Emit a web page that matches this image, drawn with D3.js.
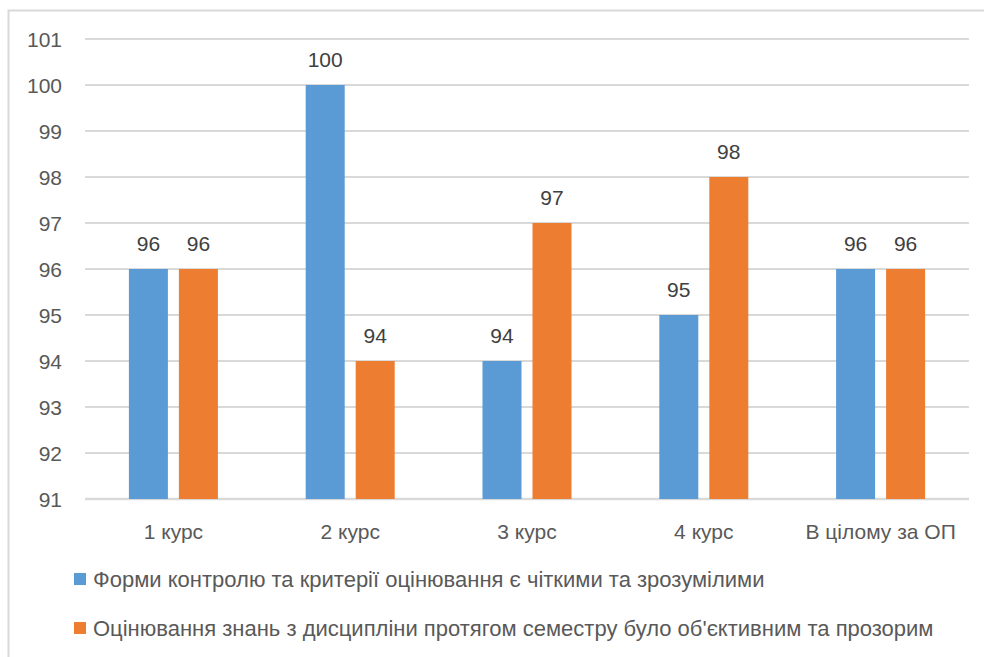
<!DOCTYPE html>
<html><head><meta charset="utf-8">
<script src="https://cdn.jsdelivr.net/npm/d3@7"></script>
<style>body{margin:0;background:#fff}svg{display:block}</style>
</head><body>
<svg id="c" width="984" height="657"></svg>
<script>
const categories = ["1 курс","2 курс","3 курс","4 курс","В цілому за ОП"];
const seriesNames = ["Форми контролю та критерії оцінювання є чіткими та зрозумілими",
  "Оцінювання знань з дисципліни протягом семестру було об'єктивним та прозорим"];
const seriesA = [96,100,94,95,96];
const seriesB = [96,94,97,98,96];
const yTicks = [91,92,93,94,95,96,97,98,99,100,101];
const colors = ["#5b9bd5","#ed7d31"];

(function(){
const svg = d3.select("#c");
const font = "'Liberation Sans', Arial, sans-serif";
const textColor = "#595959";
svg.append("rect").attr("x",8.5).attr("y",10.5).attr("width",990).attr("height",660)
  .attr("fill","#fff").attr("stroke","#d9d9d9").attr("stroke-width",2);

const pL = 85, pR = 969, pT = 39, pB = 499;
const x = d3.scaleBand().domain(categories).range([pL,pR]);
const y = d3.scaleLinear().domain([91,101]).range([pB,pT]);

const grid = svg.append("g");
grid.selectAll("line").data(yTicks).join("line")
  .attr("x1",pL).attr("x2",pR)
  .attr("y1",d=>y(d)).attr("y2",d=>y(d))
  .attr("stroke","#d9d9d9").attr("stroke-width",d=>d===91?2.5:2);

const yAxis = d3.axisLeft(y).tickValues(yTicks).tickSize(0).tickPadding(0).tickFormat(d3.format("d"));
const ya = svg.append("g").attr("transform",`translate(${pL-23},0)`).call(yAxis);
ya.select(".domain").remove();
ya.selectAll("text").attr("font-family",font).attr("font-size",21).attr("fill",textColor).attr("dy","0.36em");

const barW = 39, gap = 11;
const series = [seriesA, seriesB];
series.forEach((vals,si)=>{
  const g = svg.append("g");
  const bx = c => x(c) + x.bandwidth()/2 + (si===0 ? -gap/2-barW : gap/2);
  g.selectAll("rect").data(categories).join("rect")
    .attr("x",c=>bx(c)).attr("width",barW)
    .attr("y",(c,i)=>y(vals[i])).attr("height",(c,i)=>y(91)-y(vals[i]))
    .attr("fill",colors[si]);
  g.selectAll("text").data(categories).join("text")
    .attr("x",c=>bx(c)+barW/2).attr("y",(c,i)=>y(vals[i])-18)
    .attr("text-anchor","middle").attr("font-family",font).attr("font-size",21)
    .attr("fill","#404040").text((c,i)=>vals[i]);
});

const xAxis = d3.axisBottom(x).tickSize(0).tickPadding(0);
const xa = svg.append("g").attr("transform",`translate(0,${pB+40})`).call(xAxis);
xa.select(".domain").remove();
xa.selectAll("text").attr("font-family",font).attr("font-size",21).attr("fill",textColor).attr("dy",0);

const leg = svg.append("g");
seriesNames.forEach((n,i)=>{
  const ly = 579 + i*49;
  leg.append("rect").attr("x",74).attr("y",ly-6).attr("width",12).attr("height",12).attr("fill",colors[i]);
  leg.append("text").attr("x",93).attr("y",ly+8).attr("font-family",font).attr("font-size",22)
    .attr("fill",textColor).text(n);
});
})();
</script>
</body></html>
